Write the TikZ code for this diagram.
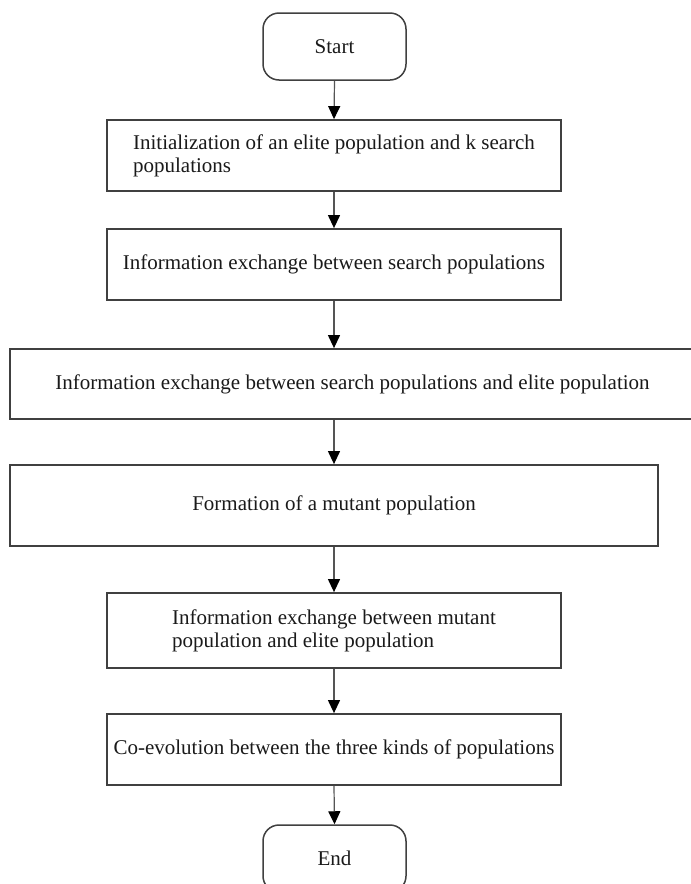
\documentclass[tikz,border=0pt]{standalone}
\usepackage{fontspec}
\setmainfont{Liberation Serif}
\usetikzlibrary{arrows.meta}
\definecolor{bordc}{HTML}{404040}
\definecolor{linec}{HTML}{555555}
\definecolor{textc}{HTML}{1A1A1A}
\begin{document}
\begin{tikzpicture}[x=1pt,y=-1pt,
  every node/.style={font=\fontsize{21}{23}\selectfont, text=textc},
  procbox/.style={draw=bordc, line width=1.8pt, rectangle, inner sep=0pt, align=left},
  termbox/.style={draw=bordc, line width=1.5pt, rectangle, rounded corners=16pt, minimum width=143pt, minimum height=67pt, inner sep=0pt},
  flow/.style={draw=linec, line width=1.2pt, -{Triangle[width=12pt,length=13pt,fill=black,color=black]}}
]
\useasboundingbox (0,0) rectangle (691,884);
\clip (0,0) rectangle (691,884);
\fill[white] (0,0) rectangle (691,884);
\node[termbox] (start) at (334.5,46.5) {Start};
\node[procbox, minimum width=454pt, minimum height=71pt] (b1) at (334,155.5) {Initialization of an elite population and k search\\populations};
\node[procbox, minimum width=454pt, minimum height=71pt] (b2) at (334,264.5) {Information exchange between search populations};
\node[procbox, minimum width=685pt, minimum height=70pt] (b3) at (352.5,384) {Information exchange between search populations and elite population};
\node[procbox, minimum width=648pt, minimum height=81pt] (b4) at (334,505.5) {Formation of a mutant population};
\node[procbox, minimum width=454pt, minimum height=75pt] (b5) at (334,630.5) {Information exchange between mutant\\population and elite population};
\node[procbox, minimum width=454pt, minimum height=71pt] (b6) at (334,749.5) {Co-evolution between the three kinds of populations};
\node[termbox] (end) at (334.5,858.5) {End};
\draw[flow] (start.south) -- (b1.north);
\draw[flow] (b1.south) -- (b2.north);
\draw[flow] (b2.south) -- (b2.south |- b3.north);
\draw[flow] (b3.south -| b4.north) -- (b4.north);
\draw[flow] (b4.south) -- (b5.north);
\draw[flow] (b5.south) -- (b6.north);
\draw[flow] (b6.south) -- (end.north);
\end{tikzpicture}
\end{document}
